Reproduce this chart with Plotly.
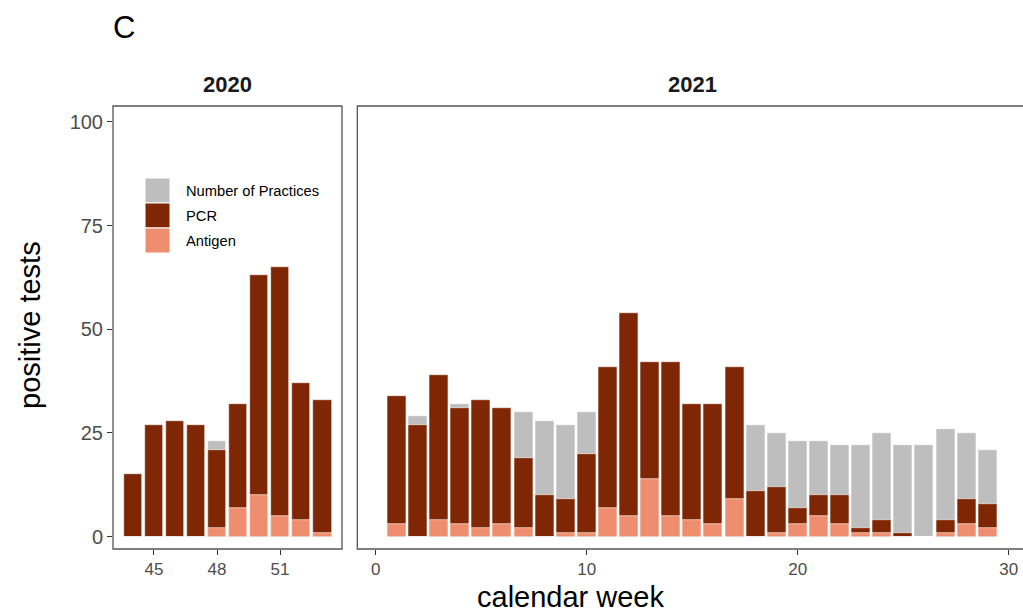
import plotly.graph_objects as go

# ---------------- data ----------------
weeks_2020 = [44, 45, 46, 47, 48, 49, 50, 51, 52, 53]
practices_2020 = [15, 27, 28, 27, 23, 32, 63, 65, 37, 33]
pcr_2020 = [15, 27, 28, 27, 21, 32, 63, 65, 37, 33]
antigen_2020 = [0, 0, 0, 0, 2, 7, 10, 5, 4, 1]

weeks_2021 = list(range(1, 30))
practices_2021 = [34, 29, 39, 32, 33, 31, 30, 28, 27, 30, 41, 54, 42, 42, 32, 32, 41,
                  27, 25, 23, 23, 22, 22, 25, 22, 22, 26, 25, 21]
pcr_2021 = [34, 27, 39, 31, 33, 31, 19, 10, 9, 20, 41, 54, 42, 42, 32, 32, 41,
            11, 12, 7, 10, 10, 2, 4, 1, 0, 4, 9, 8]
antigen_2021 = [3, 0, 4, 3, 2, 3, 2, 0, 1, 1, 7, 5, 14, 5, 4, 3, 9,
                0, 1, 3, 5, 3, 1, 1, 0, 0, 1, 3, 2]

series_names = ["Number of Practices", "PCR", "Antigen"]
series_colors = ["#BEBEBE", "#7F2704", "#EF8D6F"]
x_ticks_2020 = [45, 48, 51]
x_ticks_2021 = [0, 10, 20, 30]
y_ticks = [0, 25, 50, 75, 100]

# ---------------- layout geometry ----------------
W, H = 1023, 613
ML, MR, MT, MB = 113, 0, 106, 64
PW = W - ML - MR
PH = H - MT - MB
d1_end = (342 - ML) / PW
d2_start = (357.3 - ML) / PW

FONT = "Liberation Sans, Arial, Helvetica, sans-serif"

fig = go.Figure()

panels = [
    ("x", "y", weeks_2020, [practices_2020, pcr_2020, antigen_2020]),
    ("x2", "y2", weeks_2021, [practices_2021, pcr_2021, antigen_2021]),
]
for xa, ya, wk, vals in panels:
    for name, col, v in zip(series_names, series_colors, vals):
        fig.add_trace(go.Bar(
            x=wk, y=v, name=name, width=0.9, xaxis=xa, yaxis=ya,
            marker=dict(color=col, line=dict(color="white", width=0.6)),
            showlegend=False,
        ))

tick_common = dict(ticks="outside", ticklen=5, tickwidth=1.1, tickcolor="#333333",
                   showgrid=False, zeroline=False, showline=False)

fig.update_layout(
    width=W, height=H,
    margin=dict(l=ML, r=MR, t=MT, b=MB, pad=0),
    paper_bgcolor="white", plot_bgcolor="white",
    barmode="overlay", bargap=0,
    font=dict(family=FONT, color="#000000"),
    xaxis=dict(domain=[0, d1_end], range=[43.05, 53.95], tickvals=x_ticks_2020,
               tickfont=dict(size=17, color="#4D4D4D"), anchor="y", **tick_common),
    xaxis2=dict(domain=[d2_start, 1], range=[-0.872, 30.68], tickvals=x_ticks_2021,
                tickfont=dict(size=17, color="#4D4D4D"), anchor="y2", **tick_common),
    yaxis=dict(domain=[0, 1], range=[-2.96, 103.8], tickvals=y_ticks,
               tickfont=dict(size=20, color="#4D4D4D"), anchor="x", **tick_common),
    yaxis2=dict(domain=[0, 1], range=[-2.96, 103.8], showticklabels=False, ticks="",
                showgrid=False, zeroline=False, showline=False, anchor="x2",
                matches="y"),
)

# panel borders
shapes = [
    dict(type="rect", xref="paper", yref="paper", x0=0, x1=d1_end, y0=0, y1=1,
         line=dict(color="#555555", width=1.3), fillcolor="rgba(0,0,0,0)", layer="above"),
    dict(type="rect", xref="paper", yref="paper", x0=d2_start, x1=1.02, y0=0, y1=1,
         line=dict(color="#555555", width=1.3), fillcolor="rgba(0,0,0,0)", layer="above"),
]

# manual legend (keys + labels) inside 2020 panel
def px_to_paper(px, py):
    return (px - ML) / PW, (MT + PH - py) / PH

key_x0, key_x1 = 145, 170
key_top = 178
key_h = 25
annotations = []
for i, (name, col) in enumerate(zip(series_names, series_colors)):
    y0p = key_top + i * key_h
    xa0, ya0 = px_to_paper(key_x0, y0p + key_h)
    xa1, ya1 = px_to_paper(key_x1, y0p)
    shapes.append(dict(type="rect", xref="paper", yref="paper", x0=xa0, x1=xa1,
                       y0=ya0, y1=ya1, line=dict(color="white", width=1),
                       fillcolor=col, layer="above"))
    tx, ty = px_to_paper(184, y0p + key_h / 2)
    annotations.append(dict(x=tx, y=ty, xref="paper", yref="paper", text=name,
                            showarrow=False, xanchor="left", yanchor="middle",
                            font=dict(size=14.7, color="#000000", family=FONT)))

# strip labels
sx1, sy = px_to_paper((113 + 342) / 2, 84)
annotations.append(dict(x=sx1, y=sy, xref="paper", yref="paper", text="<b>2020</b>",
                        showarrow=False, xanchor="center", yanchor="middle",
                        font=dict(size=22, color="#1A1A1A", family=FONT)))
sx2, _ = px_to_paper((357.3 + 1027) / 2, 84)
annotations.append(dict(x=sx2, y=sy, xref="paper", yref="paper", text="<b>2021</b>",
                        showarrow=False, xanchor="center", yanchor="middle",
                        font=dict(size=22, color="#1A1A1A", family=FONT)))

# panel tag
cx, cy = px_to_paper(111, 27)
annotations.append(dict(x=cx, y=cy, xref="paper", yref="paper", text="C",
                        showarrow=False, xanchor="left", yanchor="middle",
                        font=dict(size=31, color="#000000", family=FONT)))

# axis titles
tx, ty = px_to_paper(570, 597)
annotations.append(dict(x=tx, y=ty, xref="paper", yref="paper", text="calendar week",
                        showarrow=False, xanchor="center", yanchor="middle",
                        font=dict(size=29, color="#000000", family=FONT)))
yx, yy = px_to_paper(30, 325)
annotations.append(dict(x=yx, y=yy, xref="paper", yref="paper", text="positive tests",
                        showarrow=False, xanchor="center", yanchor="middle", textangle=-90,
                        font=dict(size=29, color="#000000", family=FONT)))

fig.update_layout(shapes=shapes, annotations=annotations)

fig.write_html("out.html", config={"displayModeBar": False},
               post_script="document.body.style.margin='0';document.body.style.overflow='hidden';")
